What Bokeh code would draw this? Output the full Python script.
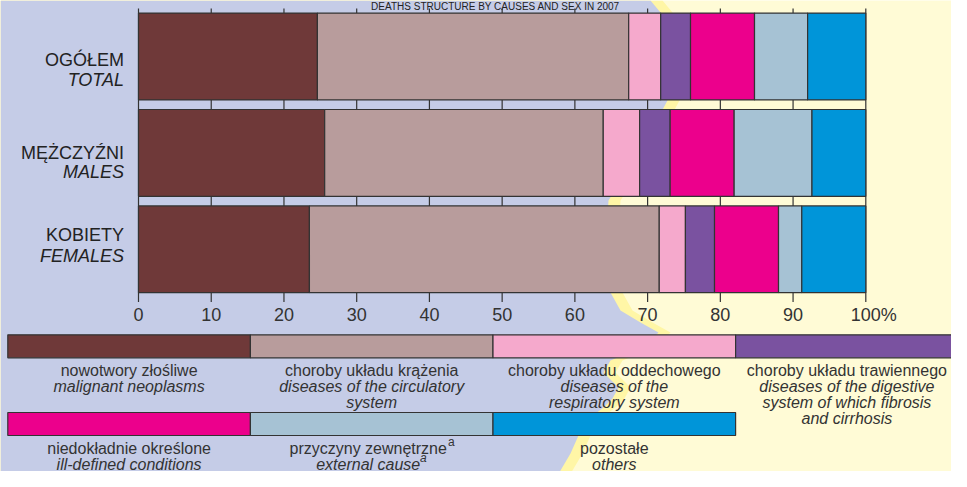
import numpy as np
from bokeh.plotting import figure
from bokeh.models import ColumnDataSource, Range1d
from bokeh.core.properties import value
from bokeh.embed import file_html
from bokeh.resources import INLINE

# ---------------- data ----------------
title = "DEATHS STRUCTURE BY CAUSES AND SEX IN 2007"
groups_pl = ["OGÓŁEM", "MĘŻCZYŹNI", "KOBIETY"]
groups_en = ["TOTAL", "MALES", "FEMALES"]
causes = ["malignant", "circulatory", "respiratory", "digestive", "illdefined", "external", "others"]
total = [24.6, 42.8, 4.4, 4.1, 8.8, 7.3, 8.0]
males = [25.6, 38.3, 5.0, 4.2, 8.8, 10.7, 7.4]
females = [23.5, 48.1, 3.6, 4.0, 8.8, 3.2, 8.8]
tick_values = [0, 10, 20, 30, 40, 50, 60, 70, 80, 90, 100]
tick_labels = ["0", "10", "20", "30", "40", "50", "60", "70", "80", "90", "100%"]
legend_pl = ["nowotwory złośliwe", "choroby układu krążenia", "choroby układu oddechowego",
             "choroby układu trawiennego", "niedokładnie określone", "przyczyny zewnętrzne", "pozostałe"]
legend_en = [["malignant neoplasms"], ["diseases of the circulatory", "system"],
             ["diseases of the", "respiratory system"],
             ["diseases of the digestive", "system of which fibrosis", "and cirrhosis"],
             ["ill-defined conditions"], ["external cause"], ["others"]]

# ---------------- style ----------------
colors = ["#6f3939", "#b89c9c", "#f5a9cc", "#7a52a0", "#ec008c", "#a6c2d4", "#0095d9"]
LAV = "#c5cce7"
PALE = "#fffbd6"
BAND = "#fff6a6"
INK = "#333333"
FONT = "Liberation Sans"

W, H = 951, 471
PX0, PX100 = 138.0, 865.3          # canvas x of 0 % and 100 %
sx = (PX100 - PX0) / 100.0
ROW0, ROWSTEP = 56.0, 96.4         # canvas y of first bar centre, spacing

x_range = Range1d((0 - PX0) / sx, (W - PX0) / sx)
y_range = Range1d((H - ROW0) / ROWSTEP, (0 - ROW0) / ROWSTEP)

p = figure(width=W, height=H, x_range=x_range, y_range=y_range,
           output_backend="svg", toolbar_location=None,
           x_axis_location=None, y_axis_location=None, min_border=0)
p.extra_x_ranges = {"px": Range1d(0, W)}
p.extra_y_ranges = {"py": Range1d(H, 0)}
p.xgrid.visible = False
p.ygrid.visible = False
p.outline_line_color = None
p.background_fill_color = PALE
p.border_fill_color = PALE

# ---------------- decorative background ----------------
bx = [650, 660, 668, 667, 640, 608, 605, 610, 620, 640, 658, 645, 610, 603, 618, 612, 603, 590, 578, 570, 560, 548]
by = [0, 12, 60, 100, 150, 200, 250, 292, 310, 322, 332, 345, 360, 372, 387, 398, 407, 417, 435, 453, 470, 487]
band_x = [0] + [v + 12 for v in bx] + [0]
lav_x = [0] + bx + [0]
poly_y = [0] + by + [487]
p.patch(band_x, poly_y, color=BAND, line_color=None, x_range_name="px", y_range_name="py")
p.patch(lav_x, poly_y, color=LAV, line_color=None, x_range_name="px", y_range_name="py")

# ---------------- grid / ticks ----------------
p.segment(x0=tick_values, x1=tick_values, y0=[8] * len(tick_values), y1=[301.5] * len(tick_values),
          line_color=INK, line_width=1.2, y_range_name="py")

# ---------------- bars ----------------
data = {"row": [0, 1, 2]}
for i, c in enumerate(causes):
    data[c] = [total[i], males[i], females[i]]
src = ColumnDataSource(data)
p.hbar_stack(causes, y="row", height=0.9, color=colors, line_color=INK, line_width=1.2, source=src)

# ---------------- tick labels ----------------
p.text(x=tick_values[:-1], y=[314] * (len(tick_values) - 1), text=tick_labels[:-1],
       y_range_name="py", text_align="center", text_baseline="middle",
       text_font=value(FONT), text_font_size="18px", text_color=INK)
p.text(x=tick_values[-1:], y=[314], text=tick_labels[-1:], x_offset=-15,
       y_range_name="py", text_align="left", text_baseline="middle",
       text_font=value(FONT), text_font_size="18px", text_color=INK)

# ---------------- row labels ----------------
lab_y_pl = [59.7, 152.5, 234.2]
lab_y_en = [79.8, 171.5, 255.8]
p.text(x=[123.5] * 3, y=lab_y_pl, text=groups_pl, x_range_name="px", y_range_name="py",
       text_align="right", text_baseline="middle", text_font=value(FONT),
       text_font_size="18px", text_color="#222222")
p.text(x=[123.5] * 3, y=lab_y_en, text=groups_en, x_range_name="px", y_range_name="py",
       text_align="right", text_baseline="middle", text_font=value(FONT),
       text_font_size="18px", text_font_style="italic", text_color="#222222")

# ---------------- title (small, in the strip above the bars) ----------------
p.text(x=[495], y=[0.5], text=[title], x_range_name="px", y_range_name="py",
       text_align="center", text_baseline="top", text_font=value(FONT),
       text_font_size="10px", text_color="#222222")

# ---------------- legend ----------------
slot_w = 242.6
slot_x0 = 7.3
row_top = [334.3, 412.0]
box_h = 23.0
text_y0 = [369.5, 447.5]
line_h = 16.0
slots = [(0, 0), (0, 1), (0, 2), (0, 3), (1, 0), (1, 1), (1, 2)]
text_shift = [0, 0, 0, -10, 0, -3.5, 0]
lefts = [slot_x0 + slot_w * k for r, k in slots]
rights = [l + slot_w for l in lefts]
tops = [row_top[r] for r, k in slots]
bottoms = [t + box_h for t in tops]
p.quad(left=lefts, right=rights, top=tops, bottom=bottoms, fill_color=colors,
       line_color=INK, line_width=1.2, x_range_name="px", y_range_name="py")

tx, ty, tt, ex, ey, et = [], [], [], [], [], []
for i, (r, k) in enumerate(slots):
    cx = lefts[i] + slot_w / 2 + text_shift[i]
    tx.append(cx); ty.append(text_y0[r]); tt.append(legend_pl[i])
    for j, line in enumerate(legend_en[i]):
        ex.append(cx); ey.append(text_y0[r] + line_h * (j + 1)); et.append(line)
p.text(x=tx, y=ty, text=tt, x_range_name="px", y_range_name="py", text_align="center",
       text_baseline="middle", text_font=value(FONT), text_font_size="16px", text_color=INK)
p.text(x=ex, y=ey, text=et, x_range_name="px", y_range_name="py", text_align="center",
       text_baseline="middle", text_font=value(FONT), text_font_size="16px",
       text_font_style="italic", text_color=INK)
# superscript "a" for external causes
p.text(x=[447.5], y=[441.5], text=["a"], x_range_name="px", y_range_name="py", text_align="left",
       text_baseline="middle", text_font=value(FONT), text_font_size="12px", text_color=INK)
p.text(x=[419.5], y=[457.5], text=["a"], x_range_name="px", y_range_name="py", text_align="left",
       text_baseline="middle", text_font=value(FONT), text_font_size="12px",
       text_font_style="italic", text_color=INK)

open("out.html", "w").write(file_html(p, INLINE))
